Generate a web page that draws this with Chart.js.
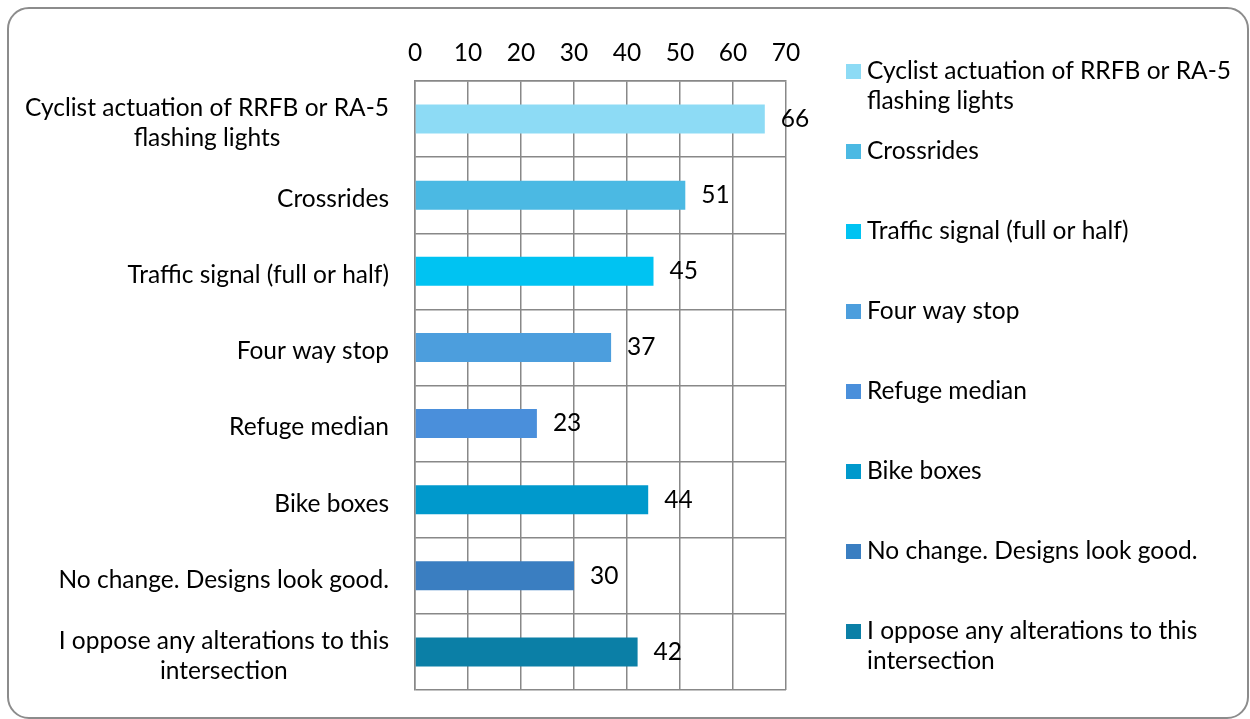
<!DOCTYPE html>
<html>
<head>
<meta charset="utf-8">
<script src="https://cdn.jsdelivr.net/npm/chart.js@4"></script>
<style>
  body { margin: 0; background: #fff; }
  #wrap { position: relative; width: 1250px; height: 719px; }
  #frame {
    position: absolute; left: 7px; top: 7px; width: 1242px; height: 712px;
    box-sizing: border-box; border: 2px solid #8c8c8c; border-radius: 22px;
    pointer-events: none;
  }
</style>
</head>
<body>
<div id="wrap">
  <canvas id="barChart"></canvas>
  <div id="frame"></div>
</div>
<script>
// categories (one entry per line of the label)
const categories = [
    ['Cyclist actuation of RRFB or RA-5', 'flashing lights'],
    ['Crossrides'],
    ['Traffic signal (full or half)'],
    ['Four way stop'],
    ['Refuge median'],
    ['Bike boxes'],
    ['No change. Designs look good.'],
    ['I oppose any alterations to this', 'intersection']
];
const values = [66, 51, 45, 37, 23, 44, 30, 42];
const xTicks = [0, 10, 20, 30, 40, 50, 60, 70];

const barColors = [
    '#8ddbf5', '#4bb9e3', '#00c3f2', '#4c9edd',
    '#4a8fdb', '#0099cc', '#3a7ec1', '#0b7fa6'
];
const FONT = '24.5px Lato';

// value labels, wrapped y labels and the legend
const extrasPlugin = {
    id: 'extras',
    afterDatasetsDraw(chart) {
        const ctx = chart.ctx;
        const meta = chart.getDatasetMeta(0);
        const yScale = chart.scales.y;
        const area = chart.chartArea;
        ctx.save();
        ctx.font = FONT;
        ctx.fillStyle = '#000';
        ctx.textBaseline = 'middle';

        // values next to bars
        ctx.textAlign = 'left';
        meta.data.forEach((bar, i) => {
            ctx.fillText(values[i], bar.x + 16, bar.y);
        });

        // category labels, lines centred on each other, block right aligned
        ctx.textAlign = 'center';
        categories.forEach((lines, i) => {
            const y = yScale.getPixelForValue(i);
            const w = Math.max(...lines.map(l => ctx.measureText(l).width));
            const cx = yScale.right - 26 - w / 2;
            lines.forEach((l, j) => {
                ctx.fillText(l, cx, y + 4 + (j - (lines.length - 1) / 2) * 30);
            });
        });

        // legend
        ctx.textAlign = 'left';
        const lx = area.right + 60;
        categories.forEach((lines, i) => {
            const y = area.top - 10 + i * 80;
            ctx.fillStyle = barColors[i];
            ctx.fillRect(lx, y - 7, 15, 15);
            ctx.fillStyle = '#000';
            lines.forEach((l, j) => ctx.fillText(l, lx + 21, y + j * 30));
        });
        ctx.restore();
    }
};

const barCtx = document.getElementById('barChart').getContext('2d');
const barChart = new Chart(barCtx, {
    type: 'bar',
    data: {
        labels: categories.map(c => c.join(' ')),
        datasets: [{
            data: values,
            backgroundColor: barColors,
            barPercentage: 0.38,
            categoryPercentage: 1
        }]
    },
    options: {
        indexAxis: 'y',
        responsive: true,
        maintainAspectRatio: false,
        animation: false,
        layout: {
            padding: { left: 0, top: 0, right: 464, bottom: 29 }
        },
        plugins: {
            legend: { display: false },
            tooltip: { enabled: false }
        },
        scales: {
            x: {
                position: 'top',
                min: 0,
                max: 70,
                afterBuildTicks: scale => {
                    scale.ticks = xTicks.map(v => ({ value: v }));
                },
                afterFit: scale => { scale.height = 81; },
                ticks: {
                    font: { family: 'Lato', size: 24.5 },
                    color: '#000',
                    padding: 13
                },
                grid: {
                    color: '#888',
                    lineWidth: 1.5,
                    drawTicks: false
                },
                border: { color: '#888', width: 1.5 }
            },
            y: {
                afterFit: scale => { scale.width = 415; },
                ticks: { display: false },
                grid: {
                    offset: true,
                    color: '#888',
                    lineWidth: 1.5,
                    drawTicks: false
                },
                border: { color: '#888', width: 1.5 }
            }
        }
    },
    plugins: [extrasPlugin]
});
</script>
</body>
</html>
